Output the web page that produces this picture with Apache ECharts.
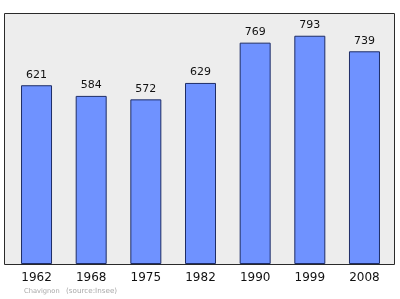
<!DOCTYPE html>
<html>
<head>
<meta charset="utf-8">
<script src="https://cdn.jsdelivr.net/npm/echarts@6/dist/echarts.min.js"></script>
<style>
  html, body { margin: 0; padding: 0; background: #ffffff; }
  #chart { width: 400px; height: 299px; }
</style>
</head>
<body>
<div id="chart"></div>
<script>
// Population of Chavignon by census year
var years = ['1962', '1968', '1975', '1982', '1990', '1999', '2008'];
var population = [621, 584, 572, 629, 769, 793, 739];

var chart = echarts.init(document.getElementById('chart'), null, { renderer: 'canvas' });

chart.setOption({
  animation: false,
  backgroundColor: '#ffffff',
  graphic: [
    {
      type: 'rect',
      z: -10,
      shape: { x: 4.5, y: 13.5, width: 390, height: 251 },
      style: { fill: '#ededed', stroke: '#2a2a2a', lineWidth: 1 }
    },
    {
      type: 'text',
      left: 24, top: 287.5,
      style: { text: 'Chavignon', fill: '#a8a8a8', font: '6.7px "DejaVu Sans", sans-serif' }
    },
    {
      type: 'text',
      left: 66, top: 287.5,
      style: { text: '(source:Insee)', fill: '#a8a8a8', font: '7.2px "DejaVu Sans", sans-serif' }
    }
  ],
  grid: { left: 9.2, top: 13, width: 382.6, height: 251, containLabel: false },
  xAxis: {
    type: 'category',
    data: years,
    axisLine: { show: false },
    axisTick: { show: false },
    axisLabel: {
      margin: 8,
      color: '#111111',
      fontSize: 12,
      fontFamily: '"DejaVu Sans", sans-serif'
    }
  },
  yAxis: {
    type: 'value',
    min: 0,
    max: 872,
    show: false,
    splitLine: { show: false }
  },
  series: [{
    type: 'bar',
    data: population,
    barWidth: 31,
    itemStyle: { color: '#6f92ff', borderColor: '#1e2d66', borderWidth: 1 },
    label: {
      show: true,
      position: 'top',
      distance: 5,
      color: '#111111',
      fontSize: 11,
      fontFamily: '"DejaVu Sans", sans-serif'
    }
  }]
});
</script>
</body>
</html>
